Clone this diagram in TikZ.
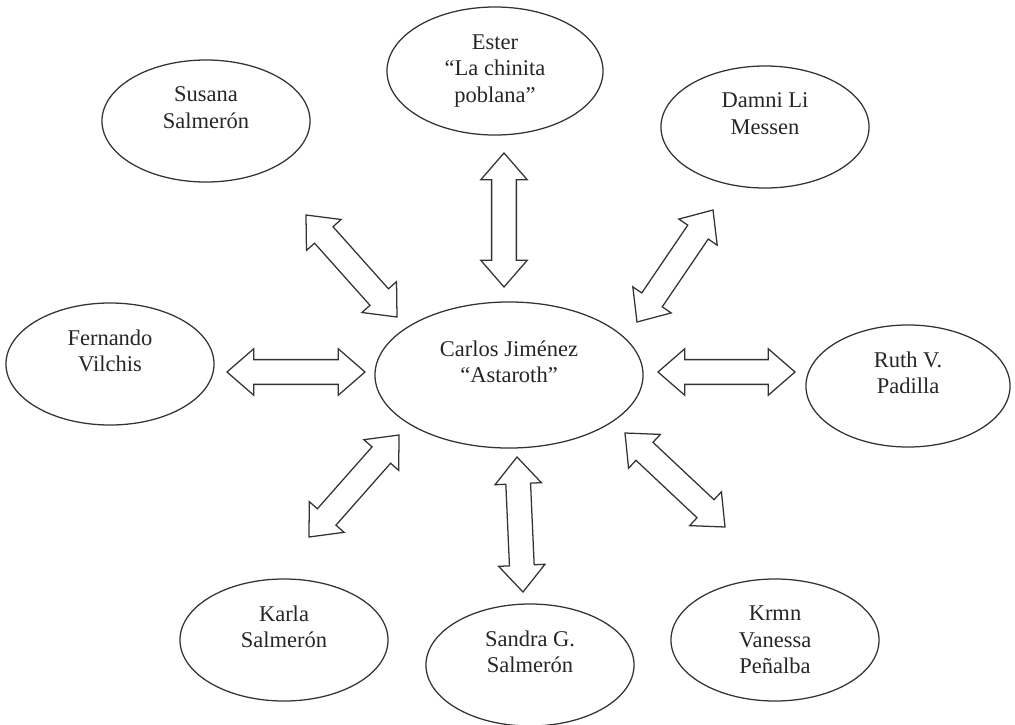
\documentclass[tikz,border=0pt]{standalone}
\usepackage{fontspec}
\setmainfont{Liberation Serif}
\usetikzlibrary{shapes.geometric,calc}

% head length, head half width, shaft half width
\newcommand\hl{19pt}
\newcommand\hw{16.5pt}
\newcommand\sw{8.8pt}
% outlined two-way block arrow between two tips
\newcommand\twoway[2]{%
  \draw[blockline] (#1)
    -- ($(#1)!\hl!(#2)!\hw!90:(#2)$)
    -- ($(#1)!\hl!(#2)!\sw!90:(#2)$)
    -- ($(#2)!\hl!(#1)!\sw!-90:(#1)$)
    -- ($(#2)!\hl!(#1)!\hw!-90:(#1)$)
    -- (#2)
    -- ($(#2)!\hl!(#1)!\hw!90:(#1)$)
    -- ($(#2)!\hl!(#1)!\sw!90:(#1)$)
    -- ($(#1)!\hl!(#2)!\sw!-90:(#2)$)
    -- ($(#1)!\hl!(#2)!\hw!-90:(#2)$)
    -- cycle;}

\begin{document}
\begin{tikzpicture}[x=0.025cm,y=-0.025cm,
    bubble/.style={ellipse,draw=black!80,line width=0.9pt,inner sep=0pt,
      minimum width=5.2cm,minimum height=3.05cm,align=center,
      font=\fontsize{16}{19}\selectfont,text=black!85},
    blockline/.style={draw=black!80,line width=0.9pt,line join=miter}]
  \useasboundingbox (0,0) rectangle (1015,725);
  % Center
  \node[bubble,minimum width=6.7cm,minimum height=3.65cm] (carlos) at (509,375)
    {Carlos Jiménez\\“Astaroth”\\~};
  % Surrounding people
  \node[bubble,minimum width=5.4cm,minimum height=3.2cm] (ester) at (495,71)
    {Ester\\“La chinita\\poblana”};
  \node[bubble] (susana) at (206,121) {Susana\\Salmerón\\~};
  \node[bubble] (damni) at (765,127) {Damni Li\\Messen\\~};
  \node[bubble] (fernando) at (110,364) {Fernando\\Vilchis\\~};
  \node[bubble,minimum width=5.1cm] (ruth) at (908,386) {Ruth V.\\Padilla\\~};
  \node[bubble] (karla) at (284,640) {Karla\\Salmerón\\~};
  \node[bubble] (sandra) at (530,665) {Sandra G.\\Salmerón\\~};
  \node[bubble] (krmn) at (775,640) {Krmn\\Vanessa\\Peñalba};
  % Arrow tips
  \coordinate (susanaA) at (306,215);   \coordinate (susanaB) at (397,317);
  \coordinate (esterA) at (504,153);    \coordinate (esterB) at (504,287);
  \coordinate (damniA) at (713,210);    \coordinate (damniB) at (637,322);
  \coordinate (fernandoA) at (227,372); \coordinate (fernandoB) at (365,372);
  \coordinate (ruthA) at (658,372);     \coordinate (ruthB) at (795,372);
  \coordinate (karlaA) at (399,435);    \coordinate (karlaB) at (309,537);
  \coordinate (sandraA) at (517,457);   \coordinate (sandraB) at (523,592);
  \coordinate (krmnA) at (625,433);     \coordinate (krmnB) at (725,527);
  % Two-way arrows
  \twoway{susanaA}{susanaB}
  \twoway{esterA}{esterB}
  \twoway{damniA}{damniB}
  \twoway{fernandoA}{fernandoB}
  \twoway{ruthA}{ruthB}
  \twoway{karlaA}{karlaB}
  \twoway{sandraA}{sandraB}
  \twoway{krmnA}{krmnB}
\end{tikzpicture}
\end{document}
